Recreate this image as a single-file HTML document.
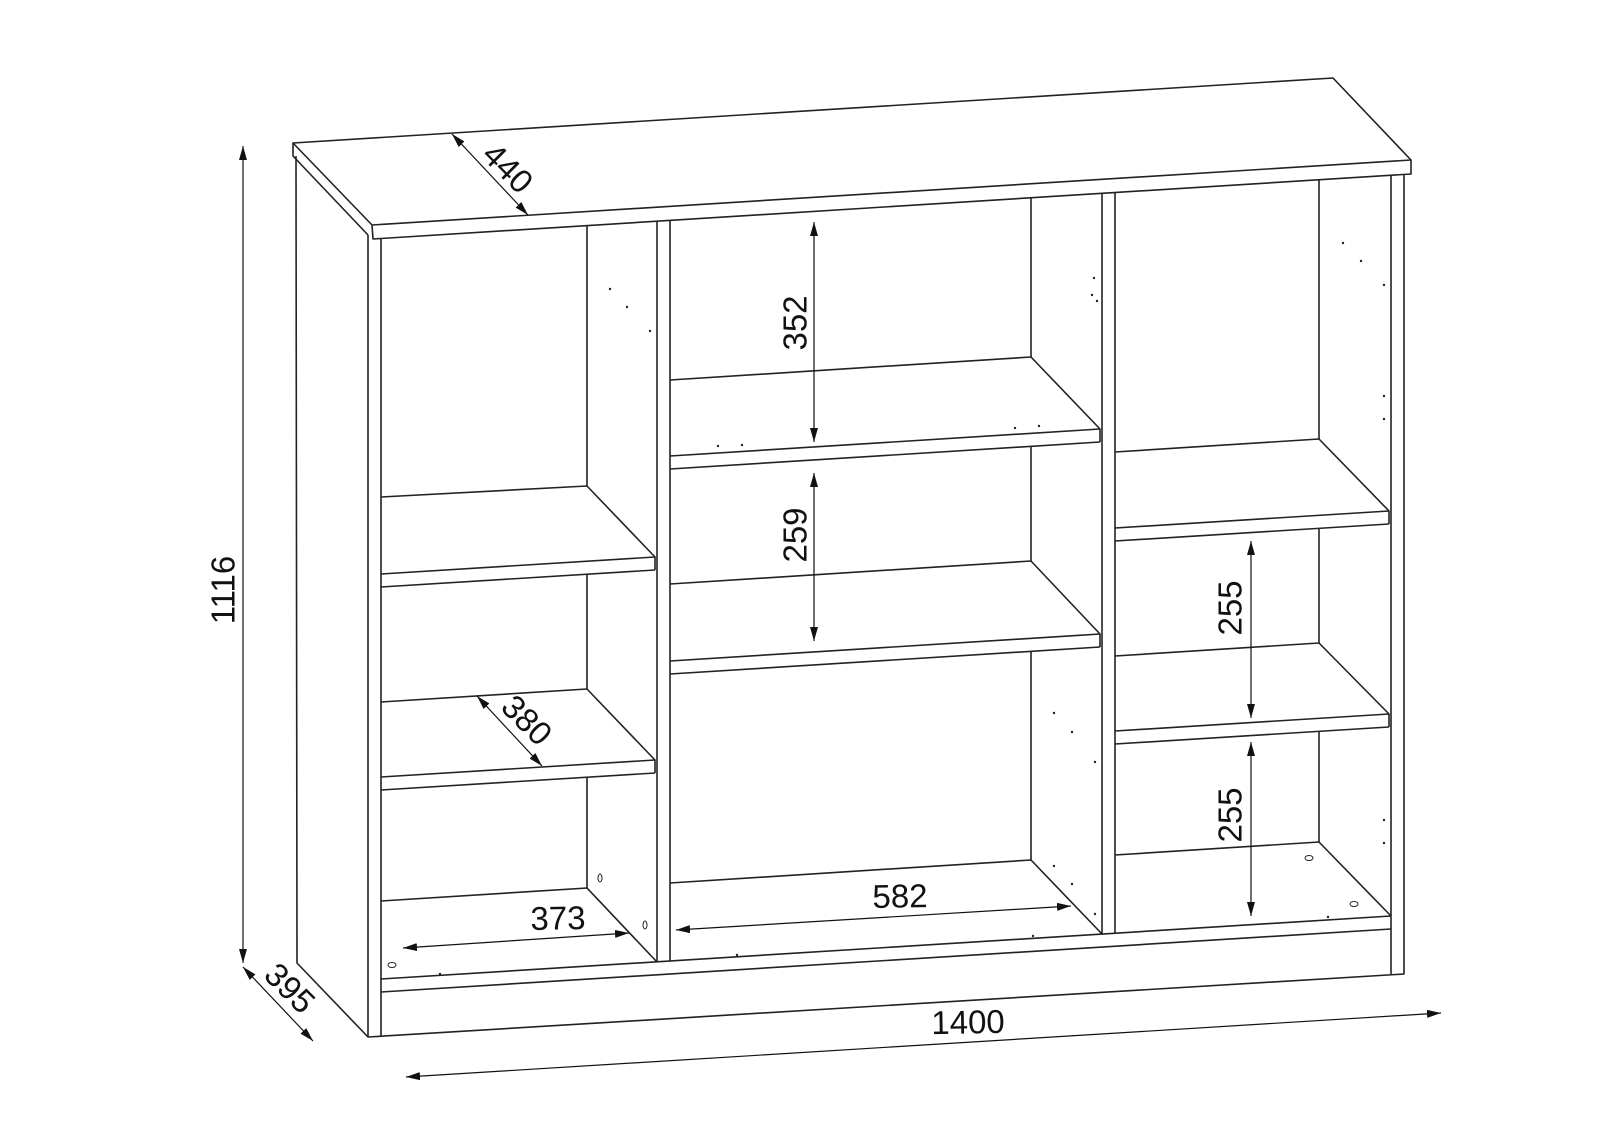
<!DOCTYPE html>
<html><head><meta charset="utf-8"><style>html,body{margin:0;padding:0;background:#fff}svg{display:block}</style></head>
<body>
<svg width="1600" height="1132" viewBox="0 0 1600 1132" xmlns="http://www.w3.org/2000/svg">
<defs>
<marker id="a" viewBox="0 0 14 8" refX="14" refY="4" markerWidth="14" markerHeight="8" markerUnits="userSpaceOnUse" orient="auto-start-reverse">
<path d="M0,0 L14,4 L0,8 z" fill="#111"/></marker>
</defs>
<g stroke="#222" stroke-width="1.6" fill="none" stroke-linejoin="round">
<!-- top slab -->
<path d="M293,143 L1333,78 L1411,160 L1411,174 L373,239 L372,225 L293,143 L293,156 L368,235"/>
<path d="M372,225 L1411,160"/>
<!-- left side -->
<path d="M296,156 L297,963 L368,1037 L1404,974 L1404,175"/>
<path d="M368,235 L368,1037"/><path d="M381,238 L381,1037"/>
<path d="M1391,175 L1391,975"/>
<!-- plinth -->
<path d="M381,979 L1391,916"/><path d="M381,992 L1391,929"/>
<!-- dividers -->
<path d="M657,221 L657,962"/><path d="M670,220 L670,961"/>
<path d="M1102,193 L1102,934"/><path d="M1115,192 L1115,933"/>
<!-- left compartment -->
<path d="M587,226 L587,486"/><path d="M587,574 L587,689"/><path d="M587,777 L587,888"/>
<path d="M381,497 L587,486 L655,557 L655,570"/><path d="M381,574 L655,557"/><path d="M381,587 L655,570"/>
<path d="M381,702 L587,689 L655,760 L655,773"/><path d="M381,777 L655,760"/><path d="M381,790 L655,773"/>
<path d="M381,901 L587,888 L657,962"/>
<!-- middle -->
<path d="M1031,198 L1031,357"/><path d="M1031,446 L1031,561"/><path d="M1031,651 L1031,860"/>
<path d="M670,380 L1031,357 L1100,429 L1100,442"/><path d="M670,456 L1100,429"/><path d="M670,469 L1100,442"/>
<path d="M670,584 L1031,561 L1100,634 L1100,647"/><path d="M670,661 L1100,634"/><path d="M670,674 L1100,647"/>
<path d="M670,883 L1031,860 L1102,934"/>
<!-- right -->
<path d="M1319,180 L1319,439"/><path d="M1319,528 L1319,643"/><path d="M1319,731 L1319,842"/>
<path d="M1115,452 L1319,439 L1389,511 L1389,524"/><path d="M1115,528 L1389,511"/><path d="M1115,541 L1389,524"/>
<path d="M1115,656 L1319,643 L1389,714 L1389,727"/><path d="M1115,731 L1389,714"/><path d="M1115,744 L1389,727"/>
<path d="M1115,855 L1319,842 L1391,916"/>
<!-- holes -->
<ellipse cx="392" cy="965" rx="4" ry="2.5" stroke-width="1"/>
<ellipse cx="600" cy="878" rx="2" ry="4" stroke-width="1"/>
<ellipse cx="645" cy="925" rx="2" ry="4" stroke-width="1"/>
<ellipse cx="1309" cy="858" rx="4" ry="2.5" stroke-width="1"/>
<ellipse cx="1354" cy="904" rx="4" ry="2.5" stroke-width="1"/>
</g>
<g fill="#222">
<circle cx="610" cy="289" r="1.2"/><circle cx="627" cy="307" r="1.2"/><circle cx="650" cy="331" r="1.2"/>
<circle cx="718" cy="446" r="1.2"/><circle cx="742" cy="445" r="1.2"/><circle cx="1015" cy="428" r="1.2"/><circle cx="1039" cy="426" r="1.2"/>
<circle cx="1094" cy="278" r="1.2"/><circle cx="1092" cy="295" r="1.2"/><circle cx="1097" cy="301" r="1.2"/>
<circle cx="1343" cy="243" r="1.2"/><circle cx="1361" cy="261" r="1.2"/><circle cx="1384" cy="285" r="1.2"/>
<circle cx="1384" cy="396" r="1.2"/><circle cx="1384" cy="419" r="1.2"/>
<circle cx="1054" cy="713" r="1.2"/><circle cx="1072" cy="732" r="1.2"/><circle cx="1095" cy="762" r="1.2"/>
<circle cx="1054" cy="866" r="1.2"/><circle cx="1072" cy="884" r="1.2"/><circle cx="1095" cy="914" r="1.2"/>
<circle cx="1384" cy="820" r="1.2"/><circle cx="1384" cy="843" r="1.2"/>
<circle cx="440" cy="974" r="1.2"/><circle cx="737" cy="955" r="1.2"/><circle cx="1033" cy="936" r="1.2"/><circle cx="1328" cy="917" r="1.2"/>
</g>
<!-- dimension lines -->
<g stroke="#111" stroke-width="1.2" fill="none" marker-start="url(#a)" marker-end="url(#a)">
<line x1="243" y1="146" x2="243" y2="963"/>
<line x1="243" y1="967" x2="313" y2="1041"/>
<line x1="406" y1="1077" x2="1441" y2="1013"/>
<line x1="452" y1="134" x2="528" y2="215"/>
<line x1="477" y1="696" x2="542" y2="766"/>
<line x1="403" y1="948" x2="629" y2="933"/>
<line x1="676" y1="930" x2="1071" y2="906"/>
<line x1="814" y1="222" x2="814" y2="442"/>
<line x1="814" y1="473" x2="814" y2="641"/>
<line x1="1251" y1="541" x2="1251" y2="718"/>
<line x1="1251" y1="742" x2="1251" y2="916"/>
</g>
<g font-family="'Liberation Sans', sans-serif" font-size="33" fill="#111" text-anchor="middle" dominant-baseline="central">
<text transform="translate(223,590) rotate(-90)">1116</text>
<text transform="translate(290,988) rotate(45)">395</text>
<text transform="translate(968,1022) rotate(-1)">1400</text>
<text transform="translate(508,168) rotate(45)">440</text>
<text transform="translate(527,720) rotate(45)">380</text>
<text transform="translate(558,918) rotate(-1)">373</text>
<text transform="translate(900,896) rotate(-1)">582</text>
<text transform="translate(795,323) rotate(-90)">352</text>
<text transform="translate(795,535) rotate(-90)">259</text>
<text transform="translate(1230,608) rotate(-90)">255</text>
<text transform="translate(1230,815) rotate(-90)">255</text>
</g>
</svg>
</body></html>
